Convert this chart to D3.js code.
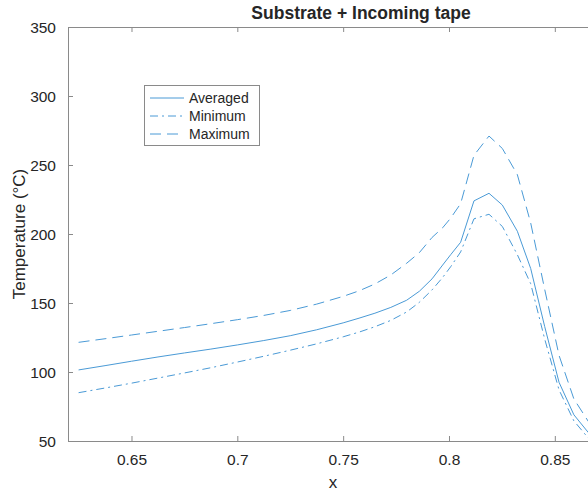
<!DOCTYPE html>
<html><head><meta charset="utf-8">
<script src="https://cdn.jsdelivr.net/npm/d3@7"></script>
<style>body{margin:0;background:#fff}svg{display:block}text{font-family:"Liberation Sans",Arial,Helvetica,sans-serif;fill:#262626}</style>
</head><body><div id="chart"></div>
<script>
const xValues = [0.625,0.6375,0.65,0.6625,0.675,0.6875,0.70,0.7125,0.725,0.7375,0.75,0.7575,0.765,0.7725,0.78,0.786,0.792,0.797,0.8008,0.8055,0.8118,0.8189,0.8252,0.8323,0.8386,0.8452,0.852,0.859,0.8659,0.8725];
const averaged = [101.5,104.6,107.8,110.9,113.8,116.6,119.6,122.8,126.3,130.6,135.6,139.0,142.6,146.8,152.0,158.5,167.5,177.5,185,194,224,229.5,221,202,175,133,92.5,69,56,48];
const minimum  = [85,88.4,91.9,95.6,99.3,103.1,107.2,111.4,115.8,120.4,125.5,128.9,132.8,137.4,143.5,150.5,159.5,168.5,176.3,187,211,214.3,205.5,185,164,124,87,64.6,52,44];
const maximum  = [121.5,124.1,126.8,129.5,132.2,135.0,137.9,141.0,144.6,149.2,154.8,158.8,163.8,170.3,178.8,186.5,197.5,204.5,211.5,222,257,271,262,243,208,160,112,80.5,64,55];
const xTicks = [0.65,0.7,0.75,0.8,0.85];
const yTicks = [50,100,150,200,250,300,350];
const seriesNames = ["Averaged","Minimum","Maximum"];
const dashes = [null,"8,4,2,4","11,6"];
const W=588,H=491, L=68, R=603.5, T=27, B=441;
const color="#4a9ad6";
const svg=d3.select("#chart").append("svg").attr("width",W).attr("height",H);
const x=d3.scaleLinear().domain([0.62,0.873]).range([L,R]);
const y=d3.scaleLinear().domain([50,350]).range([B,T]);
svg.append("defs").append("clipPath").attr("id","clip").append("rect").attr("x",L).attr("y",T).attr("width",R-L).attr("height",B-T);
const axColor="#8a8a8a";
const gx=svg.append("g").attr("transform",`translate(0,${B})`).call(d3.axisBottom(x).tickValues(xTicks).tickFormat(d=>String(d)).tickSizeInner(-5).tickSizeOuter(0).tickPadding(13));
const gxt=svg.append("g").attr("transform",`translate(0,${T})`).call(d3.axisTop(x).tickValues(xTicks).tickFormat("").tickSizeInner(-5).tickSizeOuter(0));
const gy=svg.append("g").attr("transform",`translate(${L},0)`).call(d3.axisLeft(y).tickValues(yTicks).tickFormat(d=>String(d)).tickSizeInner(-5).tickSizeOuter(0).tickPadding(12));
[gx,gxt,gy].forEach(g=>{g.select(".domain").attr("stroke",axColor).attr("stroke-width",1);g.selectAll(".tick line").attr("stroke",axColor);g.selectAll("text").attr("fill","#262626").style("font-size","15.5px").style("font-family","Liberation Sans, Arial, sans-serif");});
gy.selectAll("text").attr("dy","0.35em");
const line=d3.line().x((d,i)=>x(xValues[i])).y(d=>y(d));
const data=[averaged,minimum,maximum];
const g=svg.append("g").attr("clip-path","url(#clip)");
data.forEach((s,k)=>{g.append("path").datum(s).attr("d",line).attr("fill","none").attr("stroke",color).attr("stroke-width",1).attr("stroke-dasharray",dashes[k]);});
svg.append("text").attr("x",361).attr("y",19).attr("text-anchor","middle").style("font-weight","bold").style("font-size","17.5px").text("Substrate + Incoming tape");
svg.append("text").attr("x",333).attr("y",488).attr("text-anchor","middle").style("font-size","17px").text("x");
svg.append("text").attr("transform",`translate(25,${(T+B)/2}) rotate(-90)`).attr("text-anchor","middle").style("font-size","17px").text("Temperature (°C)");
const lg=svg.append("g");
lg.append("rect").attr("x",144.5).attr("y",85.5).attr("width",115).attr("height",60).attr("fill","#fff").attr("stroke",axColor);
seriesNames.forEach((n,k)=>{const yy=98+k*18;
 lg.append("line").attr("x1",150).attr("x2",184).attr("y1",yy).attr("y2",yy).attr("stroke",color).attr("stroke-width",1).attr("stroke-dasharray",dashes[k]);
 lg.append("text").attr("x",189).attr("y",yy).attr("dy","0.35em").style("font-size","14px").text(n);});
</script></body></html>
